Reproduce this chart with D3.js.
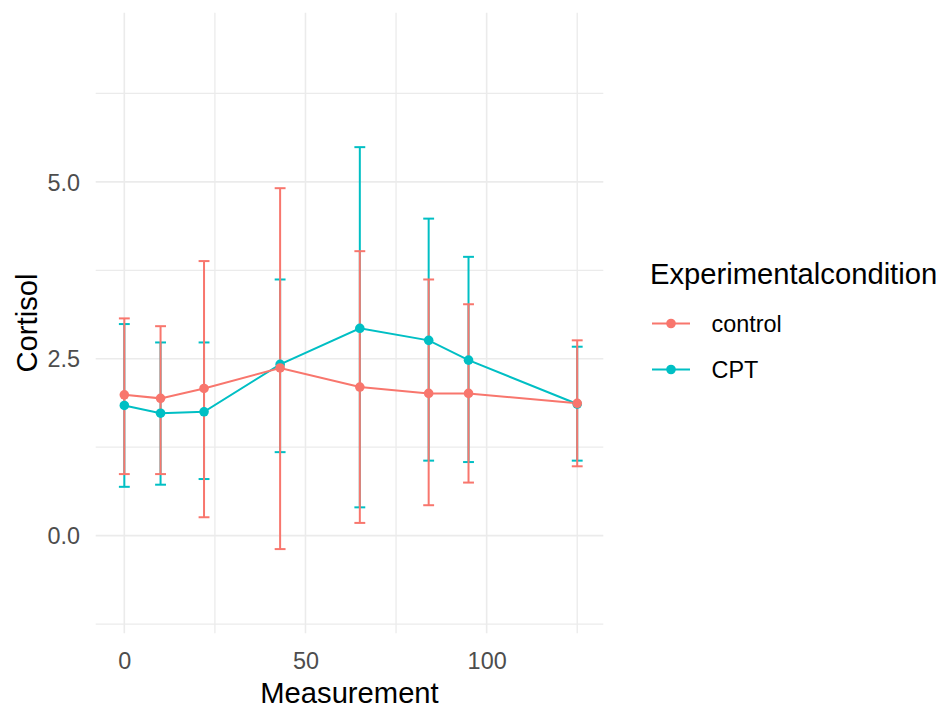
<!DOCTYPE html>
<html>
<head>
<meta charset="utf-8">
<script src="https://cdn.jsdelivr.net/npm/d3@7"></script>
<style>
  html, body { margin: 0; padding: 0; background: #fff; }
  svg text { font-family: "Liberation Sans", Arial, sans-serif; }
</style>
</head>
<body>
<svg id="chart" width="942" height="709"></svg>
<script>
// Measurement times (minutes)
const times = [0, 10, 22, 43, 65, 84, 95, 125];

// Cortisol means and error-bar bounds per condition
const controlMean = [1.99, 1.94, 2.08, 2.37, 2.10, 2.01, 2.01, 1.87];
const controlLow  = [0.87, 0.87, 0.26, -0.19, 0.18, 0.43, 0.75, 0.98];
const controlHigh = [3.07, 2.96, 3.88, 4.91, 4.02, 3.62, 3.27, 2.76];

const cptMean = [1.84, 1.73, 1.75, 2.42, 2.93, 2.76, 2.48, 1.86];
const cptLow  = [0.69, 0.72, 0.80, 1.18, 0.40, 1.06, 1.04, 1.06];
const cptHigh = [2.99, 2.73, 2.73, 3.62, 5.49, 4.48, 3.94, 2.67];

const conditions = ["control", "CPT"];
const colors = ["#F8766D", "#00BFC4"];

const xMajor = [0, 50, 100];
const xMinor = [25, 75, 125];
const xTickLabels = ["0", "50", "100"];
const yMajor = [0, 2.5, 5.0];
const yMinor = [-1.25, 1.25, 3.75, 6.25];
const yTickLabels = ["0.0", "2.5", "5.0"];

const series = [
  { name: conditions[0], color: colors[0], mean: controlMean, low: controlLow, high: controlHigh },
  { name: conditions[1], color: colors[1], mean: cptMean, low: cptLow, high: cptHigh }
].map(s => ({
  ...s,
  rows: times.map((t, i) => ({ t, m: s.mean[i], lo: s.low[i], hi: s.high[i] }))
}));

// CPT marks sit underneath the control marks
const drawOrder = series.slice().reverse();

const panel = { left: 95.7, right: 603.3, top: 12.7, bottom: 633.3 };

const x = d3.scaleLinear().domain([-7.9, 132.2]).range([panel.left, panel.right]);
const y = d3.scaleLinear().domain([-1.38, 7.39]).range([panel.bottom, panel.top]);

const svg = d3.select("#chart");

// Grid
const grid = svg.append("g").attr("stroke", "#EBEBEB").attr("fill", "none");
grid.selectAll(".vx").data(xMinor.concat(xMajor)).join("line")
  .attr("x1", d => x(d)).attr("x2", d => x(d))
  .attr("y1", panel.top).attr("y2", panel.bottom)
  .attr("stroke-width", (d) => xMajor.includes(d) ? 1.6 : 1.3);
grid.selectAll(".hy").data(yMinor.concat(yMajor)).join("line")
  .attr("y1", d => y(d)).attr("y2", d => y(d))
  .attr("x1", panel.left).attr("x2", panel.right)
  .attr("stroke-width", (d) => yMajor.includes(d) ? 1.6 : 1.3);

// Axes (labels only, theme without axis lines)
const xAxis = d3.axisBottom(x).tickValues(xMajor)
  .tickFormat((d, i) => xTickLabels[i]).tickSize(0).tickPadding(0);
const gx = svg.append("g").attr("transform", `translate(0,${panel.bottom})`).call(xAxis);
gx.select(".domain").remove();
gx.selectAll("text").attr("fill", "#4D4D4D").attr("font-size", 23.4)
  .attr("dy", null).attr("y", 36);

const yAxis = d3.axisLeft(y).tickValues(yMajor)
  .tickFormat((d, i) => yTickLabels[i]).tickSize(0).tickPadding(0);
const gy = svg.append("g").attr("transform", `translate(80,0)`).call(yAxis);
gy.select(".domain").remove();
gy.selectAll("text").attr("fill", "#4D4D4D").attr("font-size", 23.4)
  .attr("x", 0).attr("dy", "0.35em");

// Axis titles
svg.append("text").attr("x", (panel.left + panel.right) / 2).attr("y", 703)
  .attr("text-anchor", "middle").attr("font-size", 29.2).attr("fill", "#000")
  .text("Measurement");
svg.append("text")
  .attr("transform", `translate(36.5,${(panel.top + panel.bottom) / 2}) rotate(-90)`)
  .attr("text-anchor", "middle").attr("font-size", 29.2).attr("fill", "#000")
  .text("Cortisol");

// Error bars
const capHalf = 1.5;
const eb = svg.append("g").attr("fill", "none").attr("stroke-width", 2);
drawOrder.forEach(s => {
  const g = eb.append("g").attr("stroke", s.color);
  g.selectAll(".v").data(s.rows).join("line")
    .attr("x1", d => x(d.t)).attr("x2", d => x(d.t))
    .attr("y1", d => y(d.lo)).attr("y2", d => y(d.hi));
  g.selectAll(".top").data(s.rows).join("line")
    .attr("x1", d => x(d.t - capHalf)).attr("x2", d => x(d.t + capHalf))
    .attr("y1", d => y(d.hi)).attr("y2", d => y(d.hi));
  g.selectAll(".bot").data(s.rows).join("line")
    .attr("x1", d => x(d.t - capHalf)).attr("x2", d => x(d.t + capHalf))
    .attr("y1", d => y(d.lo)).attr("y2", d => y(d.lo));
});

// Lines
const line = d3.line().x(d => x(d.t)).y(d => y(d.m));
drawOrder.forEach(s => {
  svg.append("path").datum(s.rows).attr("d", line)
    .attr("fill", "none").attr("stroke", s.color).attr("stroke-width", 2);
});

// Points
drawOrder.forEach(s => {
  svg.append("g").attr("fill", s.color).selectAll("circle").data(s.rows).join("circle")
    .attr("cx", d => x(d.t)).attr("cy", d => y(d.m)).attr("r", 4.8);
});

// Legend
const legend = svg.append("g");
legend.append("text").attr("x", 650).attr("y", 283.5)
  .attr("font-size", 29.2).attr("fill", "#000").text("Experimentalcondition");
const keyY = d3.scalePoint().domain(conditions).range([323.5, 369.5]);
conditions.forEach((c, i) => {
  const yy = keyY(c);
  legend.append("line").attr("x1", 652).attr("x2", 690).attr("y1", yy).attr("y2", yy)
    .attr("stroke", colors[i]).attr("stroke-width", 2);
  legend.append("circle").attr("cx", 671).attr("cy", yy).attr("r", 4.8).attr("fill", colors[i]);
  legend.append("text").attr("x", 711.5).attr("y", yy).attr("dy", "0.35em")
    .attr("font-size", 23.4).attr("fill", "#000").text(c);
});
</script>
</body>
</html>
